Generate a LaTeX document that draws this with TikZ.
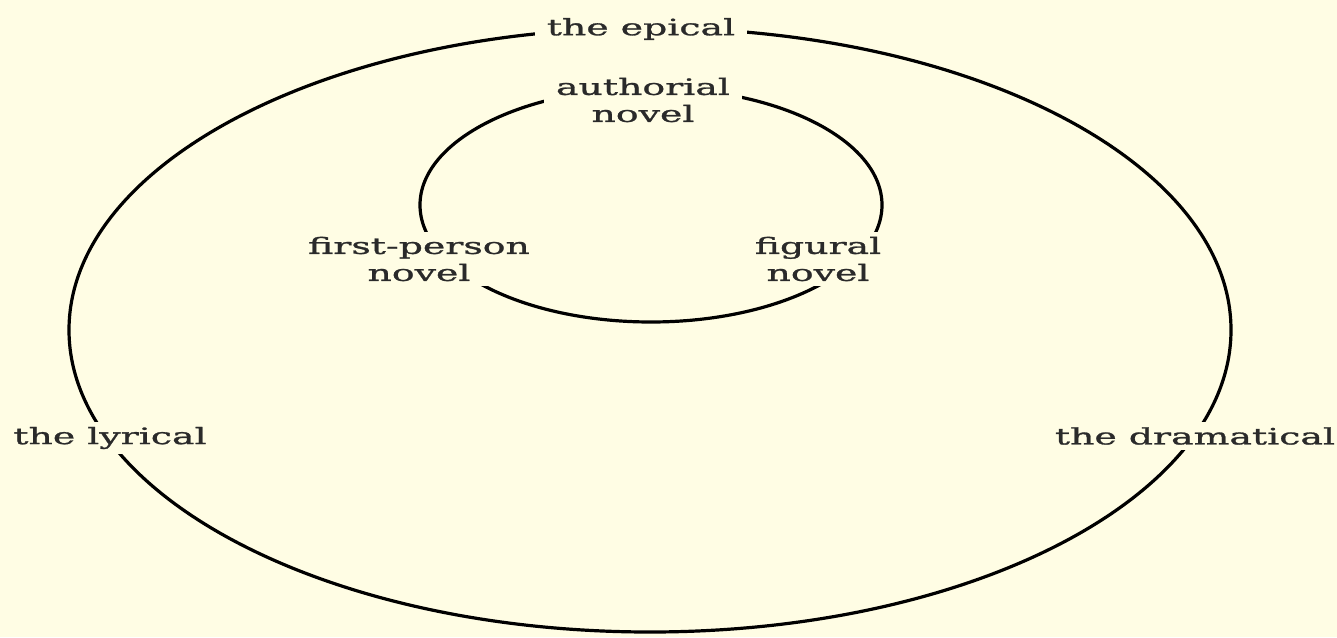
\documentclass[tikz,border=0pt]{standalone}
\usepackage{fontspec}
\newfontfamily\lblfont[FakeStretch=1.68,FakeBold=1.2]{DejaVu Serif}
\definecolor{bg}{HTML}{FFFDE4}
\definecolor{ink}{HTML}{2A2A2A}
\begin{document}
\begin{tikzpicture}[x=1pt,y=-1pt,
  lbl/.style={font=\lblfont\fontsize{22.5}{27}\selectfont, text=ink, fill=bg,
    align=center, inner xsep=12pt, inner ysep=5pt},
  ring/.style={draw=black, line width=3.2pt}]
\fill[bg] (0,0) rectangle (1337,637);
\useasboundingbox (0,0) rectangle (1337,637);
\draw[ring] (650,330) ellipse [x radius=581pt, y radius=302pt];
\draw[ring] (651,205) ellipse [x radius=231pt, y radius=117pt];
\node[lbl] (epic) at (641,29) {the epical};
\node[lbl] (lyric) at (110,438) {the lyrical};
\node[lbl] (drama) at (1195,436) {the dramatical};
\node[lbl] (auth) at (643,100) {authorial\\novel};
\node[lbl] (first) at (419,259) {first-person\\novel};
\node[lbl] (fig) at (818,259) {figural\\novel};
\end{tikzpicture}
\end{document}
